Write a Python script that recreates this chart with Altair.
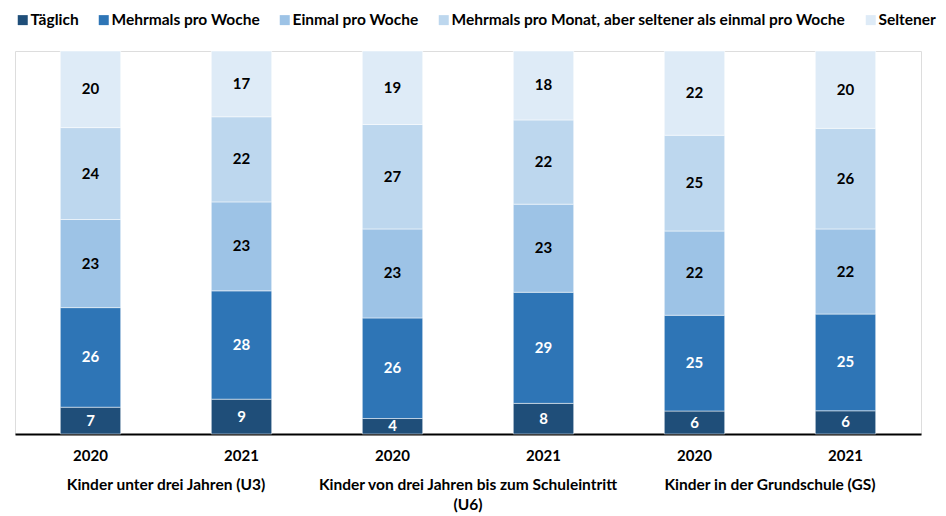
import altair as alt
import pandas as pd

groups = ["Kinder unter drei Jahren (U3)",
          "Kinder von drei Jahren bis zum Schuleintritt\n(U6)",
          "Kinder in der Grundschule (GS)"]
years = ["2020", "2021"]
series = ["Täglich", "Mehrmals pro Woche", "Einmal pro Woche",
          "Mehrmals pro Monat, aber seltener als einmal pro Woche", "Seltener"]
colors = ["#1F4E79", "#2E75B6", "#9DC3E6", "#BDD7EE", "#DEEBF7"]

taeglich = [7, 9, 4, 8, 6, 6]
mehrmals_woche = [26, 28, 26, 29, 25, 25]
einmal_woche = [23, 23, 23, 23, 22, 22]
mehrmals_monat = [24, 22, 27, 22, 25, 26]
seltener = [20, 17, 19, 18, 22, 20]

values = [taeglich, mehrmals_woche, einmal_woche, mehrmals_monat, seltener]

keys = [f"{g}|{y}" for g in range(len(groups)) for y in years]

rows = []
for si, s in enumerate(series):
    for ki, k in enumerate(keys):
        rows.append({"key": k, "series": s, "order": si, "value": values[si][ki]})
df = pd.DataFrame(rows)

grp_df = pd.DataFrame({"key": [f"{g}|{years[0]}" for g in range(len(groups))],
                       "label": groups})

FONT = "Lato"

xenc = alt.X("key:N", sort=keys,
             scale=alt.Scale(paddingInner=0.6, paddingOuter=0.3),
             axis=alt.Axis(title=None, ticks=False, labelAngle=0,
                           labelExpr="split(datum.value, '|')[1]",
                           labelFont=FONT, labelFontSize=15, labelFontWeight="bold",
                           labelColor="black", labelPadding=14,
                           domainColor="black", domainWidth=2, grid=False))

base = alt.Chart(df).transform_stack(
    stack="value", groupby=["key"], as_=["v0", "v1"],
    offset="normalize", sort=[alt.SortField("order", order="ascending")]
).transform_calculate(mid="(datum.v0 + datum.v1) / 2")

yscale = alt.Scale(domain=[0, 1])

bars = base.mark_bar(stroke="white", strokeWidth=0.5).encode(
    x=xenc,
    y=alt.Y("v0:Q", scale=yscale, axis=None),
    y2="v1:Q",
    color=alt.Color("series:N", sort=series,
                    scale=alt.Scale(domain=series, range=colors),
                    legend=alt.Legend(title=None, orient="none", legendX=0, legendY=-39,
                                      direction="horizontal", symbolType="square",
                                      symbolSize=100, symbolStrokeWidth=0,
                                      labelFont=FONT, labelFontSize=15.5,
                                      labelFontWeight="bold", labelColor="black",
                                      labelLimit=600, columnPadding=17, labelOffset=0)),
    order=alt.Order("order:Q"),
)

labels = base.mark_text(font=FONT, fontSize=15, fontWeight="bold").encode(
    x=alt.X("key:N", sort=keys),
    y=alt.Y("mid:Q", scale=yscale),
    text=alt.Text("value:Q"),
    color=alt.condition(alt.datum.order < 2, alt.value("white"), alt.value("black")),
)

glabels = alt.Chart(grp_df).transform_calculate(
    lines="split(datum.label, '\\n')"
).mark_text(font=FONT, fontSize=15.5, fontWeight="bold", baseline="top",
            dx=75.5, lineHeight=20, color="black").encode(
    x=alt.X("key:N", sort=keys),
    y=alt.value(427),
    text="lines:N",
)

chart = alt.layer(bars, labels, glabels).properties(
    width=906, height=383,
    autosize=alt.AutoSizeParams(type="none"),
    padding={"left": 7, "top": 43, "right": 17, "bottom": 80},
).configure_view(stroke=None).configure(background="white")

chart.save("out.html", embed_options={"renderer": "svg", "actions": False})
